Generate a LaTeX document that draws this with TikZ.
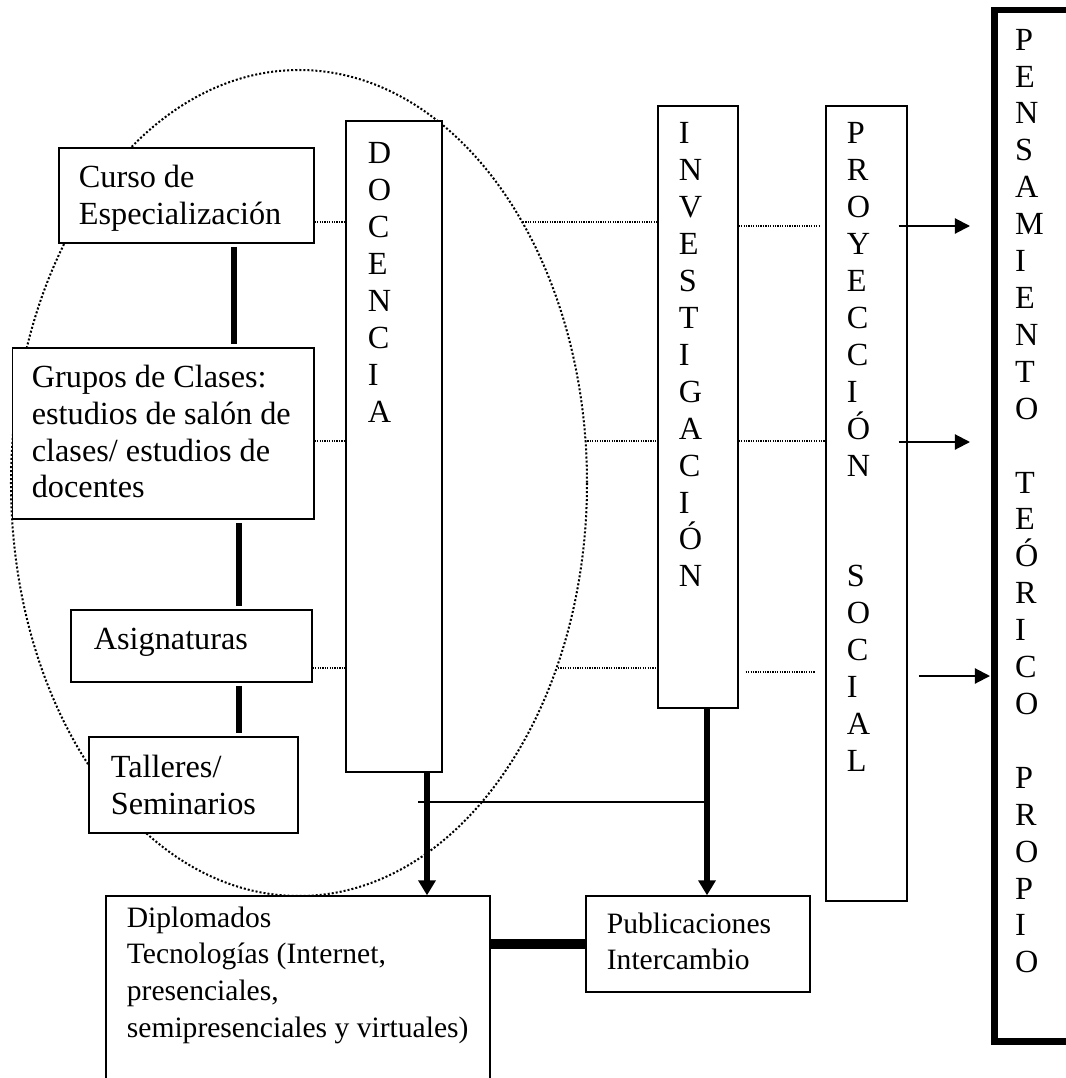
\documentclass[tikz,border=0pt]{standalone}
\usepackage{fontspec}
\setmainfont{Liberation Serif}
\usetikzlibrary{arrows.meta,positioning,fit}

\tikzset{
	box/.style={draw, fill=white, line width=0.5pt, inner sep=0pt},
	txt/.style={anchor=north west, inner sep=0pt, align=left, font=\fontsize{12}{13.73}\selectfont},
	smalltxt/.style={txt, font=\fontsize{11}{13.6}\selectfont},
	link/.style={line width=0.45pt, dash pattern=on 0.45pt off 0.45pt},
	ring/.style={line width=0.75pt, dash pattern=on 0.75pt off 0.75pt},
	bar/.style={line width=2.6pt, shorten <=1.2pt, shorten >=1.2pt},
	down/.style={line width=1.9pt, -{Triangle[length=5.6pt,width=6.3pt]}},
	toward/.style={line width=0.75pt, -{Triangle[length=5.6pt,width=5.6pt]}}
}

\begin{document}
\begin{tikzpicture}[x=0.372pt,y=-0.372pt]
			
			\path[use as bounding box, clip] (0,0) rectangle (1066,1078);
			
			\draw[ring] (299,483) ellipse [x radius=288, y radius=413];
			
			\node[box, fit={(59,148) (314,243)}] (curso) {};
			\node[box, fit={(12.5,348) (314,519)}] (grupos) {};
			\node[box, fit={(71,610) (312,682)}] (asig) {};
			\node[box, fit={(89,737) (298,833)}] (tall) {};
			\node[box, fit={(346,121) (442,772)}] (doc) {};
			\node[box, fit={(658,106) (738,708)}] (inv) {};
			\node[box, fit={(826,106) (907,901)}] (proy) {};
			\node[box, line width=2.6pt, fit={(994,10) (1100,1041)}] (pens) {};
			\node[box, fit={(106,896) (490,1120)}] (dipl) {};
			\node[box, fit={(586,896) (810,992)}] (publ) {};
			
			\node[txt] (cursoT) at ([shift={(20,17)}]curso.north west) {Curso de\\Especialización};
			\node[txt] (gruposT) at ([shift={(19.5,17)}]grupos.north west) {Grupos de Clases:\\estudios de salón de\\clases/ estudios de\\docentes};
			\node[txt] (asigT) at ([shift={(23,18)}]asig.north west) {Asignaturas};
			\node[txt] (tallT) at ([shift={(22,18)}]tall.north west) {Talleres/\\Seminarios};
			\node[smalltxt] (diplT) at ([shift={(21,11)}]dipl.north west) {Diplomados\\Tecnologías (Internet,\\presenciales,\\semipresenciales y virtuales)};
			\node[smalltxt] (publT) at ([shift={(21,17)}]publ.north west) {Publicaciones\\Intercambio};
			\node[txt] (docT) at ([shift={(22,22)}]doc.north west) {D\\O\\C\\E\\N\\C\\I\\A};
			\node[txt] (invT) at ([shift={(21,17)}]inv.north west) {I\\N\\V\\E\\S\\T\\I\\G\\A\\C\\I\\Ó\\N};
			\node[txt] (proyT) at ([shift={(21,17)}]proy.north west) {P\\R\\O\\Y\\E\\C\\C\\I\\Ó\\N\\~\\~\\S\\O\\C\\I\\A\\L};
			\node[txt] (pensT) at ([shift={(24,22)}]pens.north west) {P\\E\\N\\S\\A\\M\\I\\E\\N\\T\\O\\~\\T\\E\\Ó\\R\\I\\C\\O\\~\\P\\R\\O\\P\\I\\O};
			
			\coordinate (e1) at (523,222);
			\coordinate (e2) at (585,441);
			\coordinate (e3) at (558,668);
			\coordinate (q1) at (820,226);
			\coordinate (q3) at (815,672);
			\coordinate (t1) at (970,226);
			\coordinate (t2) at (970,442);
			\coordinate (t3) at (990,676);
			\coordinate (jd) at (427,802);
			\coordinate (ji) at (707,802);
			\coordinate (v1) at (234,0);
			\coordinate (v2) at (239,0);
			
			\draw[bar] (curso.south -| v1) -- (grupos.north -| v1);
			\draw[bar] (grupos.south -| v2) -- (asig.north -| v2);
			\draw[bar] (asig.south -| v2) -- (tall.north -| v2);
			
			\draw[link] (curso.east |- e1) -- (doc.west |- e1);
			\draw[link] (e1) -- (inv.west |- e1);
			\draw[link] (inv.east |- q1) -- (q1);
			\draw[link] (grupos.east |- e2) -- (doc.west |- e2);
			\draw[link] (e2) -- (inv.west |- e2);
			\draw[link] (inv.east |- e2) -- (proy.west |- e2);
			\draw[link] (asig.east |- e3) -- (doc.west |- e3);
			\draw[link] (e3) -- (inv.west |- e3);
			\draw[link] (inv.east |- q3) ++(7,0) -- (q3);
			
			\draw[toward] (proy.east |- t1) ++(-9,0) -- (t1);
			\draw[toward] (proy.east |- t2) ++(-9,0) -- (t2);
			\draw[toward] (proy.east |- t3) ++(11,0) -- (t3);
			
			\draw[line width=0.5pt] (jd) ++(-9,0) -- (ji);
			\draw[down] (doc.south -| jd) -- (dipl.north -| jd);
			\draw[down] (inv.south -| ji) -- (publ.north -| ji);
			\draw[line width=3.7pt] (dipl.east |- publ.west) -- (publ.west);
			
		\end{tikzpicture}
\end{document}
